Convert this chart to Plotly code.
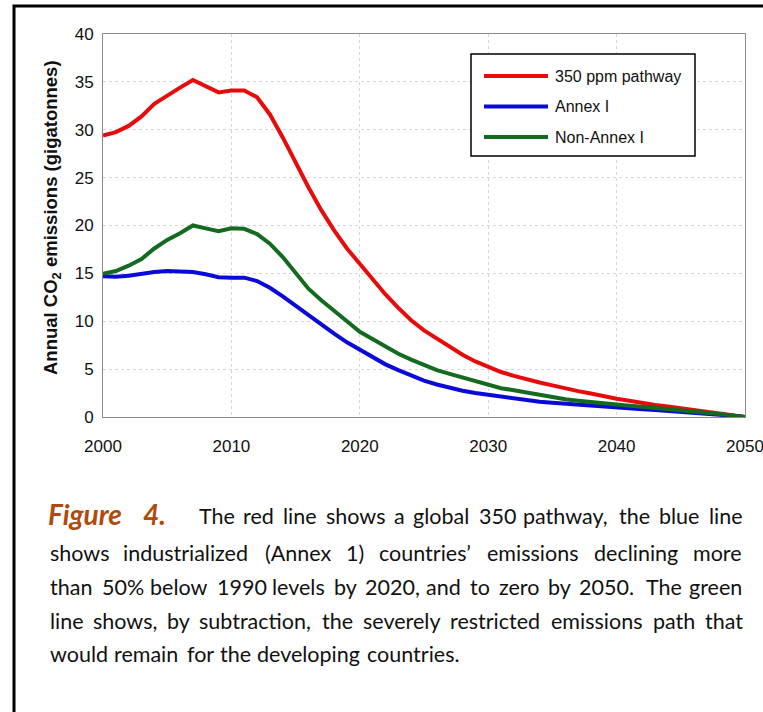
import plotly.graph_objects as go

# ---------------- data ----------------
years = list(range(2000, 2051))

pathway_350 = [29.4, 29.75, 30.4, 31.4, 32.7, 33.6, 34.4, 35.2, 34.5, 33.9,
               34.1, 34.1, 33.4, 31.6, 29.2, 26.5, 24.0, 21.6, 19.5, 17.6,
               16.0, 14.3, 12.8, 11.4, 10.1, 9.05, 8.2, 7.35, 6.5, 5.8,
               5.25, 4.7, 4.3, 3.9, 3.6, 3.3, 2.95, 2.7, 2.45, 2.15,
               1.9, 1.7, 1.45, 1.25, 1.1, 0.9, 0.72, 0.55, 0.37, 0.2, 0.0]

annex_1 = [14.7, 14.65, 14.75, 15.0, 15.15, 15.25, 15.25, 15.15, 14.9, 14.6,
           14.55, 14.55, 14.2, 13.5, 12.6, 11.6, 10.6, 9.6, 8.7, 7.8,
           7.0, 6.25, 5.5, 4.9, 4.3, 3.8, 3.4, 3.05, 2.75, 2.5,
           2.3, 2.1, 1.9, 1.75, 1.6, 1.48, 1.37, 1.26, 1.16, 1.06,
           0.97, 0.89, 0.8, 0.72, 0.64, 0.55, 0.45, 0.35, 0.24, 0.12, 0.0]

non_annex_1 = [14.95, 15.25, 15.8, 16.5, 17.6, 18.5, 19.2, 20.0, 19.7, 19.4,
               19.7, 19.65, 19.1, 18.1, 16.7, 15.1, 13.4, 12.2, 11.15, 10.0,
               8.9, 8.1, 7.3, 6.6, 6.0, 5.4, 4.9, 4.5, 4.1, 3.7,
               3.3, 3.0, 2.8, 2.55, 2.3, 2.05, 1.85, 1.7, 1.55, 1.42,
               1.3, 1.18, 1.07, 0.96, 0.85, 0.73, 0.6, 0.47, 0.32, 0.16, 0.0]

series_names = ["350 ppm pathway", "Annex I", "Non-Annex I"]
x_ticks = [2000, 2010, 2020, 2030, 2040, 2050]
y_ticks = [0, 5, 10, 15, 20, 25, 30, 35, 40]
y_title = "<b>Annual CO<sub>2</sub> emissions (gigatonnes)</b>"

caption_label = ["Figure", "4."]
caption_lines = [
    "The red line shows a global 350 pathway, the blue line",
    "shows industrialized (Annex 1) countries’ emissions declining more",
    "than 50% below 1990 levels by 2020, and to zero by 2050.  The green",
    "line shows, by subtraction, the severely restricted emissions path that",
    "would remain for the developing countries.",
]

# ---------------- layout constants (screen px) ----------------
W, H = 763, 712
PL, PR, PT, PB = 103, 745, 34, 417   # plot area
colors = ["#e60c0c", "#0a0ad8", "#146a1e"]


def px_x(px):
    return (px - PL) / (PR - PL)


def px_y(py):
    return (PB - py) / (PB - PT)


fig = go.Figure()
for name, vals, col in zip(series_names, [pathway_350, annex_1, non_annex_1], colors):
    fig.add_trace(go.Scatter(x=years, y=vals, mode="lines", name=name,
                             line=dict(color=col, width=4), cliponaxis=False,
                             showlegend=False))

tick_font = dict(family="Liberation Sans, Arial, sans-serif", size=17, color="#111")
fig.update_layout(
    width=W, height=H,
    margin=dict(l=PL, r=W - PR, t=PT, b=H - PB, autoexpand=False),
    paper_bgcolor="white", plot_bgcolor="white",
    showlegend=False,
    xaxis=dict(range=[2000, 2050], tickvals=x_ticks, ticks="", showline=True,
               linecolor="#8a8a8a", linewidth=1, mirror=True,
               showgrid=True, gridcolor="#d6d6d6", griddash="dot", gridwidth=1,
               zeroline=False, tickfont=tick_font, ticklabelstandoff=14,
               ticklabeloverflow="allow"),
    yaxis=dict(range=[0, 40], tickvals=y_ticks, ticks="", showline=True,
               linecolor="#8a8a8a", linewidth=1, mirror=True,
               showgrid=True, gridcolor="#d6d6d6", griddash="dot", gridwidth=1,
               zeroline=False, tickfont=tick_font, ticklabelstandoff=5),
)

shapes = []
annotations = []

# outer document frame
shapes.append(dict(type="rect", xref="paper", yref="paper",
                   x0=px_x(14), x1=px_x(900), y0=px_y(1000), y1=px_y(6),
                   line=dict(color="black", width=3), fillcolor="rgba(0,0,0,0)",
                   layer="above"))

# y axis title
annotations.append(dict(xref="paper", yref="paper", x=px_x(52), y=px_y(218),
                        text=y_title, textangle=-90, showarrow=False,
                        xanchor="center", yanchor="middle",
                        font=dict(family="Liberation Sans, Arial, sans-serif", size=18.5, color="#111")))

# legend box
shapes.append(dict(type="rect", xref="paper", yref="paper",
                   x0=px_x(471), x1=px_x(695), y0=px_y(156), y1=px_y(54),
                   line=dict(color="black", width=1.5), fillcolor="white", layer="above"))
legend_y = [76, 106.5, 137]
for name, col, ly in zip(series_names, colors, legend_y):
    shapes.append(dict(type="line", xref="paper", yref="paper",
                       x0=px_x(484), x1=px_x(548), y0=px_y(ly), y1=px_y(ly),
                       line=dict(color=col, width=4), layer="above"))
    annotations.append(dict(xref="paper", yref="paper", x=px_x(553), y=px_y(ly),
                            text=name, showarrow=False, xanchor="left", yanchor="middle",
                            font=dict(family="Liberation Sans, Arial, sans-serif", size=16, color="#111")))

# ---------------- caption (justified, word by word) ----------------
# approximate advance widths (em) of the source's Calibri face, used to lay out the words
CW = {' ': .226, 'a': .479, 'b': .525, 'c': .423, 'd': .525, 'e': .498, 'f': .305, 'g': .471,
      'h': .525, 'i': .229, 'k': .455, 'l': .229, 'm': .799, 'n': .525, 'o': .527, 'p': .525,
      'r': .349, 's': .391, 't': .335, 'u': .525, 'v': .452, 'w': .715, 'x': .433, 'y': .453,
      'z': .395, 'T': .487, 'A': .579, '(': .303, ')': .303, ',': .250, '.': .252, '’': .221,
      '%': .715}
SRC_SIZE = 23.4


def src_w(word):
    return sum(CW.get(ch, .507) for ch in word) * SRC_SIZE


cap_font = dict(family="Lato, sans-serif", size=21.5, color="#111")
fig_font = dict(family="Lato, sans-serif", size=28, color="#b04a0c")
annotations.append(dict(xref="paper", yref="paper", x=px_x(46), y=px_y(514),
                        text="<b><i>" + caption_label[0] + "</i></b>", showarrow=False,
                        xanchor="left", yanchor="middle", font=fig_font))
annotations.append(dict(xref="paper", yref="paper", x=px_x(141), y=px_y(514),
                        text="<b><i>" + caption_label[1] + "</i></b>", showarrow=False,
                        xanchor="left", yanchor="middle", font=fig_font))

line_start = [197, 48, 48, 48, 48]
line_end = 742
line_y = [516, 553, 587, 621, 654]
for i, (text, x0, ly) in enumerate(zip(caption_lines, line_start, line_y)):
    words = text.split(" ")
    justified = i < len(caption_lines) - 1
    real = [w for w in words if w]
    extra_spaces = len(words) - len(real)
    total = sum(src_w(w) for w in real)
    if justified:
        gap = (line_end - x0 - total - extra_spaces * src_w(' ')) / (len(real) - 1)
    else:
        gap = src_w(' ')
    x = x0
    for w in words:
        if not w:
            x += src_w(' ')
            continue
        annotations.append(dict(xref="paper", yref="paper", x=px_x(x), y=px_y(ly),
                                text=w, showarrow=False, xanchor="left", yanchor="middle",
                                font=cap_font))
        x += src_w(w) + gap

fig.update_layout(shapes=shapes, annotations=annotations)
fig.write_html("out.html", config={"displayModeBar": False},
               post_script="document.body.style.margin='0';")
